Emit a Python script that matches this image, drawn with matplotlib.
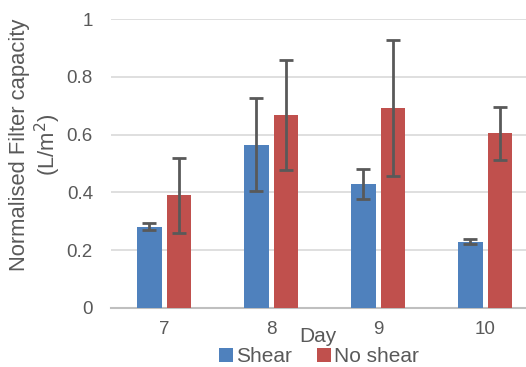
import matplotlib.pyplot as plt
import numpy as np

plt.rcParams['font.family'] = ['Liberation Sans', 'DejaVu Sans']

days = ['7', '8', '9', '10']
shear = [0.282, 0.565, 0.428, 0.229]
shear_err = [0.012, 0.16, 0.052, 0.009]
no_shear = [0.39, 0.668, 0.691, 0.604]
no_shear_err = [0.13, 0.19, 0.235, 0.092]

grey = '#595959'
fig = plt.figure(figsize=(5.26, 3.67), dpi=100)
ax = fig.add_axes([111/526, 59/367, 428/526, 289/367])

x = np.arange(len(days))
w = 0.23
ekw = dict(ecolor=grey, elinewidth=2, capsize=5, capthick=2)
ax.bar(x - 0.142, shear, w, color='#4F81BD', label='Shear',
       yerr=shear_err, error_kw=ekw, zorder=3)
ax.bar(x + 0.137, no_shear, w, color='#C0504D', label='No shear',
       yerr=no_shear_err, error_kw=ekw, zorder=3)

ax.set_xlim(-0.5, 3.5)
ax.set_ylim(0, 1)
ax.set_yticks([0, 0.2, 0.4, 0.6, 0.8, 1])
ax.set_yticklabels(['0', '0.2', '0.4', '0.6', '0.8', '1'])
ax.set_xticks(x)
ax.set_xticklabels(days)
ax.yaxis.grid(True, color='#D9D9D9', linewidth=1.2, zorder=0)
ax.set_axisbelow(True)
for s in ['top', 'right', 'left']:
    ax.spines[s].set_visible(False)
ax.spines['bottom'].set_color('#BFBFBF')
ax.spines['bottom'].set_linewidth(1.5)
ax.tick_params(length=0, labelsize=13.5, colors=grey)
ax.tick_params(axis='x', pad=9)
ax.tick_params(axis='y', pad=13)

fig.text(36/526, 1 - 145/367, 'Normalised Filter capacity\n(L/m$^2$)',
         fontsize=15.8, color=grey, rotation=90, ha='center', va='center',
         multialignment='center', linespacing=1.12)
fig.text(318/526, 1 - 337/367, 'Day', fontsize=15, color=grey,
         ha='center', va='center')
fig.legend(loc='center', bbox_to_anchor=(319/526, 1 - 357/367), ncol=2,
           frameon=False, fontsize=15, handlelength=0.67, handleheight=0.67,
           handletextpad=0.15, columnspacing=1.2, labelcolor=grey,
           borderpad=0)

fig.savefig('out.png', dpi=100)
